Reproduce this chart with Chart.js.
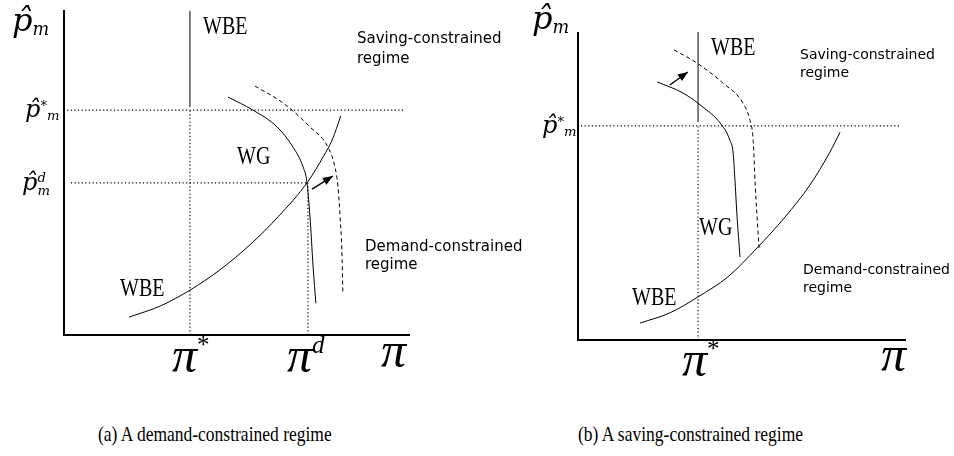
<!DOCTYPE html>
<html>
<head>
<meta charset="utf-8">
<script src="https://cdn.jsdelivr.net/npm/chart.js@4.4.1/dist/chart.umd.min.js"></script>
<style>
  html, body { margin: 0; padding: 0; background: #fff; }
  #page { position: relative; width: 954px; height: 456px; overflow: hidden; }
  canvas { position: absolute; top: 0; }
  .lbl { position: absolute; white-space: nowrap; line-height: 1; color: #000; }
  .math { font-family: "DejaVu Serif", serif; font-style: italic; }
  .pi { font-family: "Liberation Serif", serif; font-style: italic; font-size: 50px; }
  .rm { font-family: "Liberation Serif", serif; font-size: 20px; transform-origin: left top; transform: scaleY(1.25); }
  .sans { font-family: "DejaVu Sans", sans-serif; }
  .cap { font-family: "Liberation Serif", serif; font-size: 17.5px; transform-origin: left top; transform: scaleY(1.2); }
  .sb { font-size: 0.55em; position: relative; top: 0.2em; }
  .sp { font-size: 0.55em; position: relative; top: -0.55em; }
  .pi .sp { font-size: 0.5em; top: -0.75em; font-style: normal; }
  .stack { display: inline-block; font-size: 0.55em; vertical-align: -0.35em; line-height: 0.95; }
</style>
</head>
<body>
<div id="page">
  <canvas id="chartA" width="477" height="400" style="left:0"></canvas>
  <canvas id="chartB" width="477" height="400" style="left:477px"></canvas>

  <!-- panel (a) labels -->
  <div class="lbl math" style="left:12px;top:4px;font-size:32px">p̂<span class="sb">m</span></div>
  <div class="lbl math" style="left:25px;top:97px;font-size:24px">p̂<span class="sp">*</span><span class="sb">m</span></div>
  <div class="lbl math" style="left:22px;top:170px;font-size:24px">p̂<span class="stack">d<br>m</span></div>
  <div class="lbl pi" style="left:172px;top:330px">π<span class="sp">*</span></div>
  <div class="lbl pi" style="left:287px;top:330px">π<span class="sp" style="font-style:italic">d</span></div>
  <div class="lbl pi" style="left:381px;top:325px">π</div>
  <div class="lbl rm" style="left:203px;top:13px">WBE</div>
  <div class="lbl rm" style="left:237px;top:143px">WG</div>
  <div class="lbl rm" style="left:120px;top:275px">WBE</div>
  <div class="lbl sans" style="left:357px;top:28px;font-size:15px;line-height:20px">Saving-constrained<br>regime</div>
  <div class="lbl sans" style="left:365px;top:237px;font-size:15px;line-height:18px">Demand-constrained<br>regime</div>

  <!-- panel (b) labels -->
  <div class="lbl math" style="left:532px;top:2px;font-size:32px">p̂<span class="sb">m</span></div>
  <div class="lbl math" style="left:542px;top:113px;font-size:24px">p̂<span class="sp">*</span><span class="sb">m</span></div>
  <div class="lbl pi" style="left:682px;top:334px">π<span class="sp">*</span></div>
  <div class="lbl pi" style="left:881px;top:329px">π</div>
  <div class="lbl rm" style="left:711px;top:34px">WBE</div>
  <div class="lbl rm" style="left:699px;top:214px">WG</div>
  <div class="lbl rm" style="left:632px;top:284px">WBE</div>
  <div class="lbl sans" style="left:800px;top:45px;font-size:14px;line-height:18px">Saving-constrained<br>regime</div>
  <div class="lbl sans" style="left:803px;top:260px;font-size:14px;line-height:18px">Demand-constrained<br>regime</div>

  <div class="lbl cap" style="left:98px;top:424px">(a) A demand-constrained regime</div>
  <div class="lbl cap" style="left:578px;top:424px">(b) A saving-constrained regime</div>
</div>

<script>
// ---- panel (a): demand-constrained regime ----
const aPiTicks = [3.64, 7.05];     // pi*, pi^d
const aPmTicks = [6.92, 4.68];     // p*_m, p^d_m
const aWbeVertY = [7.02, 9.97];
const aWbeX = [1.88, 2.8, 3.64, 4.5, 5.4, 6.2, 7.05, 7.5, 7.75, 8.0];
const aWbeY = [0.55, 0.9, 1.38, 2.0, 2.8, 3.65, 4.72, 5.5, 6.0, 6.74];
const aWgX = [4.74, 5.46, 6.16, 6.62, 6.91, 7.02, 7.11, 7.2, 7.28];
const aWgY = [7.32, 6.92, 6.4, 5.78, 5.17, 4.71, 3.63, 2.09, 0.98];
const aWgShiftX = [5.52, 6.33, 7.11, 7.63, 7.83, 7.92, 7.98, 8.03, 8.06];
const aWgShiftY = [7.66, 7.14, 6.4, 5.78, 5.17, 4.55, 3.63, 2.62, 1.29];
const aArrowX = [7.17, 7.77];
const aArrowY = [4.49, 4.89];

// ---- panel (b): saving-constrained regime ----
const bPiTicks = [3.66];
const bPmTicks = [6.95];
const bWbeVertY = [7.08, 10];
const bWbeX = [1.89, 2.8, 3.66, 4.57, 5.46, 6.31, 7.07, 7.68, 7.99];
const bWbeY = [0.55, 0.88, 1.4, 2.05, 2.99, 3.99, 5.03, 6.1, 6.75];
const bWgX = [2.41, 3.2, 3.81, 4.33, 4.63, 4.73, 4.79, 4.85, 4.94];
const bWgY = [8.38, 8.02, 7.56, 7.05, 6.49, 6.07, 5.1, 3.99, 2.69];
const bWgShiftX = [2.93, 3.63, 4.42, 5.03, 5.24, 5.34, 5.4, 5.46, 5.52];
const bWgShiftY = [9.42, 8.99, 8.34, 7.69, 7.14, 6.49, 5.1, 3.99, 2.99];
const bArrowX = [2.8, 3.35];
const bArrowY = [8.28, 8.7];

function pts(xs, ys) {
  return xs.map((x, i) => ({ x, y: ys[i] }));
}

function line(data, extra) {
  return Object.assign({
    data,
    showLine: true,
    pointRadius: 0,
    borderColor: "#000",
    backgroundColor: "#000",
    borderWidth: 1,
    tension: 0,
    clip: false,
  }, extra || {});
}

const dotted = { borderDash: [1.2, 2.4], borderWidth: 1.2 };
const smooth = { cubicInterpolationMode: "monotone" };

const arrowHeads = {
  id: "arrowHeads",
  afterDatasetsDraw(chart) {
    const ctx = chart.ctx;
    chart.data.datasets.forEach((ds, i) => {
      if (!ds.arrow) return;
      const els = chart.getDatasetMeta(i).data;
      const a = els[els.length - 2], b = els[els.length - 1];
      const ang = Math.atan2(b.y - a.y, b.x - a.x);
      const len = 10, half = 4;
      ctx.save();
      ctx.fillStyle = "#000";
      ctx.beginPath();
      ctx.moveTo(b.x, b.y);
      ctx.lineTo(b.x - len * Math.cos(ang) + half * Math.sin(ang), b.y - len * Math.sin(ang) - half * Math.cos(ang));
      ctx.lineTo(b.x - len * Math.cos(ang) - half * Math.sin(ang), b.y - len * Math.sin(ang) + half * Math.cos(ang));
      ctx.closePath();
      ctx.fill();
      ctx.restore();
    });
  },
};

function makeChart(id, datasets, padding) {
  return new Chart(document.getElementById(id), {
    type: "scatter",
    data: { datasets },
    options: {
      responsive: false,
      animation: false,
      events: [],
      layout: { padding },
      plugins: { legend: { display: false }, tooltip: { enabled: false } },
      scales: {
        x: { type: "linear", min: 0, max: 10, display: false },
        y: { type: "linear", min: 0, max: 10, display: false },
      },
    },
    plugins: [arrowHeads],
  });
}

const axes = [{ x: 0, y: 10 }, { x: 0, y: 0 }, { x: 10, y: 0 }];

makeChart("chartA", [
  line(axes, { borderWidth: 2 }),
  line([{ x: 0.09, y: aPmTicks[0] }, { x: 9.86, y: aPmTicks[0] }], dotted),
  line([{ x: 0.2, y: aPmTicks[1] }, { x: aPiTicks[1], y: aPmTicks[1] }], dotted),
  line([{ x: aPiTicks[0], y: 0 }, { x: aPiTicks[0], y: aPmTicks[0] }], dotted),
  line([{ x: aPiTicks[1], y: 0 }, { x: aPiTicks[1], y: aPmTicks[1] }], dotted),
  line([{ x: aPiTicks[0], y: aWbeVertY[0] }, { x: aPiTicks[0], y: aWbeVertY[1] }]),
  line(pts(aWbeX, aWbeY), smooth),
  line(pts(aWgX, aWgY), smooth),
  line(pts(aWgShiftX, aWgShiftY), Object.assign({ borderDash: [4, 3] }, smooth)),
  line(pts(aArrowX, aArrowY), { arrow: true, borderWidth: 1.3 }),
], { left: 64, top: 10, right: 67, bottom: 65 });

makeChart("chartB", [
  line(axes, { borderWidth: 2 }),
  line([{ x: 0.09, y: bPmTicks[0] }, { x: 9.82, y: bPmTicks[0] }], dotted),
  line([{ x: bPiTicks[0], y: 0 }, { x: bPiTicks[0], y: bPmTicks[0] }], dotted),
  line([{ x: bPiTicks[0], y: bWbeVertY[0] }, { x: bPiTicks[0], y: bWbeVertY[1] }]),
  line(pts(bWbeX, bWbeY), smooth),
  line(pts(bWgX, bWgY), smooth),
  line(pts(bWgShiftX, bWgShiftY), Object.assign({ borderDash: [4, 3] }, smooth)),
  line(pts(bArrowX, bArrowY), { arrow: true, borderWidth: 1.3 }),
], { left: 101, top: 32, right: 48, bottom: 60 });
</script>
</body>
</html>
